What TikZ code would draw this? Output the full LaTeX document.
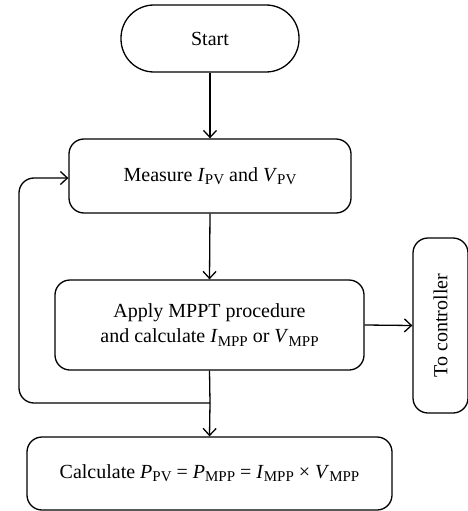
\documentclass[tikz,border=0pt]{standalone}
\usepackage{fontspec}
\setmainfont{Liberation Serif}
\usetikzlibrary{positioning, arrows.meta}
\tikzset{every picture/.style={x=1pt,y=-1pt,line width=1.3pt,>={Straight Barb[length=7pt,width=13pt]}},
         box/.style={draw,rounded corners=15pt,align=center,inner sep=0pt,font=\fontsize{20}{25}\selectfont},
         stadium/.style={box,rounded corners=33pt},
        }
\newcommand{\pvsym}[2]{\textit{#1}\raisebox{-0.35ex}{\fontsize{15}{15}\selectfont #2}}

\begin{document}
\begin{tikzpicture}
        \useasboundingbox(0,0)rectangle(467,511);
        \node[stadium,minimum width=178pt,minimum height=67pt](start)at(210,38.5){Start};
        \node[box,minimum width=282pt,minimum height=74pt](meas)at(210,176){Measure \pvsym{I}{PV} and \pvsym{V}{PV}};
        \node[box,minimum width=309pt,minimum height=90pt](mppt)at(209.5,325){Apply MPPT procedure\\and calculate \pvsym{I}{MPP} or \pvsym{V}{MPP}};
        \node[box,minimum width=175pt,minimum height=55pt,rotate=90](ctrl)at(440.5,325.5){To controller};
        \node[box,minimum width=365pt,minimum height=73pt](calc)at(209.5,473.5){Calculate \pvsym{P}{PV} = \pvsym{P}{MPP} = \pvsym{I}{MPP} × \pvsym{V}{MPP}};

        \coordinate(j)at(210,403);
        \coordinate(lb)at(19,403);
        \coordinate(lt)at(19,178);

        \draw[->](start.south)--(meas.north);
        \draw[->](meas.south)--(mppt.north);
        \draw[->](mppt.east)--(ctrl.north);
        \draw(mppt.south)--(j);
        \draw[->,rounded corners=15pt](j)--(lb)--(lt)--(meas.west|-lt);
        \draw[->](j)--(calc.north);
    \end{tikzpicture}
\end{document}
